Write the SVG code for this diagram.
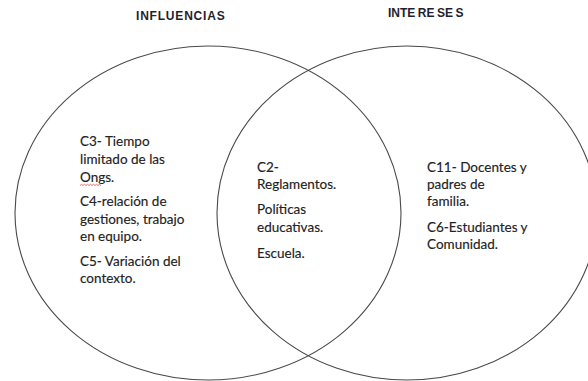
<svg xmlns="http://www.w3.org/2000/svg" width="588" height="381" viewBox="0 0 588 381">
<style>
.ring{fill:none;stroke:#4a4a4a;stroke-width:1.1}
.title{font-family:"Liberation Sans",Arial,sans-serif;font-weight:bold;font-size:12px;fill:#1f1f2e}
.body{font-family:Lato,"Open Sans",sans-serif;font-size:13.5px;fill:#222;stroke:#222;stroke-width:0.15}
</style>
<rect width="588" height="381" fill="#fff"/>
<g id="set-influencias">
<ellipse class="ring" cx="208" cy="213" rx="193" ry="167"/>
<text class="title" x="136" y="20" letter-spacing="0.8">INFLUENCIAS</text>
</g>
<g id="set-intereses">
<ellipse class="ring" cx="407" cy="213" rx="190" ry="167"/>
<text class="title" x="388" y="17"><tspan>INTE</tspan><tspan dx="2.5">RE</tspan><tspan dx="2.5">SE</tspan><tspan dx="2.5">S</tspan></text>
</g>
<g id="influencias-items">
<text class="body" x="80"><tspan x="80" y="146">C3- Tiempo</tspan><tspan x="80" y="164">limitado de las</tspan><tspan x="80" y="182">Ongs.</tspan><tspan x="80" y="206">C4-relación de</tspan><tspan x="80" y="224">gestiones, trabajo</tspan><tspan x="80" y="241">en equipo.</tspan><tspan x="80" y="266">C5- Variación del</tspan><tspan x="80" y="283">contexto.</tspan></text>
<path d="M80,185.5 l1.5,-1.2 l1.5,1.2 l1.5,-1.2 l1.5,1.2 l1.5,-1.2 l1.5,1.2 l1.5,-1.2 l1.5,1.2 l1.5,-1.2 l1.5,1.2 l1.5,-1.2 l1.5,1.2 l1.5,-1.2 l1.5,1.2" fill="none" stroke="#e03030" stroke-width="0.7"/>
</g>
<g id="interseccion-items">
<text class="body"><tspan x="257" y="172">C2-</tspan><tspan x="257" y="189">Reglamentos.</tspan><tspan x="257" y="214">Políticas</tspan><tspan x="257" y="232">educativas.</tspan><tspan x="257" y="258">Escuela.</tspan></text>
</g>
<g id="intereses-items">
<text class="body"><tspan x="427" y="172">C11- Docentes y</tspan><tspan x="427" y="189">padres de</tspan><tspan x="427" y="206">familia.</tspan><tspan x="427" y="232">C6-Estudiantes y</tspan><tspan x="427" y="249">Comunidad.</tspan></text>
</g>
<g id="connectors"/>
</svg>
